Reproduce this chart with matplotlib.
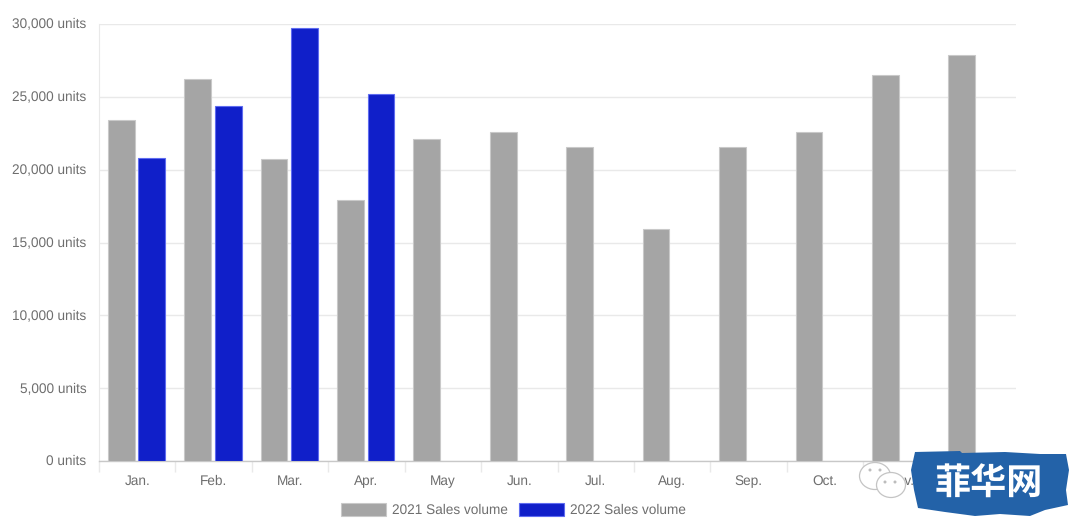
import numpy as np
from matplotlib import patches
from matplotlib import pyplot as plt

plt.rcParams["font.family"] = ["Liberation Sans", "DejaVu Sans"]
plt.rcParams["text.hinting"] = "none"

months = ["Jan.", "Feb.", "Mar.", "Apr.", "May", "Jun.", "Jul.", "Aug.", "Sep.", "Oct.", "Nov.", "Dec."]
sales_2021 = [23400, 26250, 20750, 17900, 22100, 22600, 21550, 15900, 21550, 22600, 26500, 27900]
sales_2022 = [20800, 24350, 29700, 25200]
y_ticks = [0, 5000, 10000, 15000, 20000, 25000, 30000]

W, H = 1080, 530
TEXT = "#6e6e6e"
GRID = "#e9e9e9"
GREY = "#a5a5a5"
BLUE = "#101fc9"
FONT_SIZE = 9.8


def fig_box(x0, y0, x1, y1):
    """Pixel box (y from the top) to figure fractions."""
    return [x0 / W, 1 - y1 / H, (x1 - x0) / W, (y1 - y0) / H]


def px(x, y):
    return x / W, 1 - y / H


fig = plt.figure(figsize=(W / 100, H / 100), dpi=100)
ax = fig.add_axes(fig_box(99, 24, 1016, 461))

x = np.arange(len(months))
bar_width = 0.35
ax.bar(x[:len(sales_2021)] - 0.21, sales_2021, bar_width, color=GREY, edgecolor="#c9c9c9", linewidth=0.8, zorder=3, label="2021 Sales volume")
ax.bar(x[:len(sales_2022)] + 0.19, sales_2022, bar_width, color=BLUE, edgecolor="#5f6cf0", linewidth=0.8, zorder=3, label="2022 Sales volume")

ax.set_xlim(-0.5, len(months) - 0.5)
ax.set_ylim(0, 30000)
ax.set_yticks(y_ticks)
ax.set_yticklabels([f"{v:,} units" for v in y_ticks], fontsize=FONT_SIZE, color=TEXT, va="center")
ax.set_xticks(x)
ax.set_xticklabels(months, fontsize=FONT_SIZE, color=TEXT, va="baseline")
ax.tick_params(axis="x", length=0, pad=17)
ax.tick_params(axis="y", length=0, pad=9)

# category separators below the axis
ax.set_xticks(np.arange(len(months) + 1) - 0.5, minor=True)
ax.tick_params(axis="x", which="minor", length=8, width=1, color=GRID)

ax.grid(axis="y", color=GRID, linewidth=1, zorder=0)
ax.set_axisbelow(True)
for side in ["top", "right"]:
    ax.spines[side].set_visible(False)
ax.spines["left"].set_color(GRID)
ax.spines["bottom"].set_color("#c8c8c8")
ax.spines["bottom"].set_linewidth(1)

ax.legend(
    loc="center", bbox_to_anchor=px(513.5, 510), bbox_transform=fig.transFigure, ncol=2, frameon=False,
    fontsize=FONT_SIZE, labelcolor=TEXT, handlelength=3.3, handleheight=1.03, handletextpad=0.4, columnspacing=0.85,
)

# watermark: chat bubbles and brush label
for cx, cy, w, h in [(875, 476, 31, 27), (891, 485, 29, 25)]:
    fig.add_artist(patches.Ellipse(px(cx, cy), w / W, h / H, transform=fig.transFigure, facecolor="white", edgecolor="#c4c4c4", linewidth=0.9, zorder=8))
for cx, cy in [(870, 470), (880, 470), (885, 482), (895, 482)]:
    fig.add_artist(patches.Ellipse(px(cx, cy), 3 / W, 3 / H, transform=fig.transFigure, facecolor="#bdbdbd", edgecolor="none", zorder=9))

brush_edge = [
    (915, 452), (960, 451), (962, 453), (1005, 452), (1040, 454), (1066, 454), (1069, 470), (1066, 490), (1068, 505),
    (1045, 510), (1030, 516), (1000, 514), (975, 516), (945, 512), (918, 508), (914, 490), (911, 470),
]
fig.add_artist(patches.Polygon([px(a, b) for a, b in brush_edge], closed=True, transform=fig.transFigure, facecolor="#2362a8", edgecolor="none", zorder=10))
fig.text(*px(989, 484), "菲华网", family=["Noto Sans CJK SC", "DejaVu Sans"], fontsize=26, fontweight="bold", color="white", ha="center", va="center", zorder=11)

fig.savefig("out.png", dpi=100)
